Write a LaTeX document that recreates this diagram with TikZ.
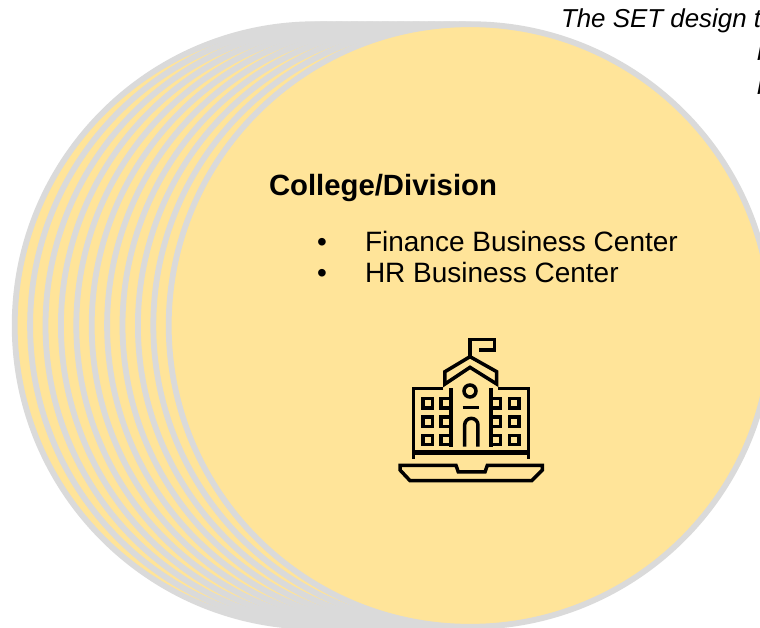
\documentclass[tikz,border=0pt]{standalone}
\usepackage{fontspec}
\setmainfont{Liberation Sans}
\definecolor{discfill}{HTML}{FFE499}
\definecolor{discedge}{HTML}{DADADA}
\tikzset{
  disc/.style={draw=discedge,fill=discfill,line width=5.8pt},
  label/.style={anchor=base west,inner sep=0pt,outer sep=0pt,text=black},
  bodytext/.style={label,font=\fontsize{28pt}{31pt}\selectfont},
  headtext/.style={label,font=\fontsize{29.3pt}{33pt}\selectfont\bfseries},
  notetext/.style={label,font=\fontsize{25.9pt}{33pt}\selectfont\itshape},
  iconline/.style={draw=black,line width=3.5pt,line join=miter,fill=none},
  iconthick/.style={draw=black,line width=4.4pt,fill=none}
}
\begin{document}
\begin{tikzpicture}[x=1pt,y=-1pt]
\useasboundingbox (0,0) rectangle (760,627);
\clip (0,0) rectangle (760,627);
\fill[white] (0,0) rectangle (760,627);
% stacked circles, back to front
\foreach \i in {0,...,10}{
  \path[disc] ({316+15.4*\i},325.5) circle[radius=301.3pt];
}
% cut-off note at the top right
\node[notetext] (noteA) at (561,27) {The SET design t};
\node[notetext] (noteB) at (757,60) {r};
\node[notetext] (noteC) at (757,94) {r};
% texts
\node[headtext] (head) at (269,195) {College/Division};
\node[bodytext] (bulA) at (317,251) {•};
\node[bodytext] (itemA) at (365,251) {Finance Business Center};
\node[bodytext] (bulB) at (317,282) {•};
\node[bodytext] (itemB) at (365,282) {HR Business Center};
% icon
\begin{scope}[shift={(380,320)},x=0.3333pt,y=-0.3333pt]
  % flag
  \draw[iconline] (270,108) -- (270,58) -- (343,58) -- (343,90) -- (296,90);
  % roof
  \draw[iconline] (195,192) -- (195,155) -- (270,110) -- (350,155) -- (350,192) -- (270,142) -- cycle;
  % wings
  \draw[iconline] (190,206) -- (101,206) -- (101,416);
  \draw[iconline] (355,206) -- (445,206) -- (445,416);
  \draw[iconthick] (101,398) -- (445,398);
  \draw[iconthick] (213,204) -- (213,380);
  \draw[iconthick] (333,204) -- (333,380);
  % windows
  \foreach \wy in {250,305,360}{
    \foreach \wx in {143,197,347,403}{
      \draw[iconline] ({\wx-14},{\wy-14}) rectangle ({\wx+14},{\wy+14});
    }
  }
  % centre window, lintel, door
  \draw[iconline] (270,213) circle[radius=18];
  \draw[iconline] (248,262) -- (296,262);
  \draw[iconline] (254,380) -- (254,315) arc[start angle=180,end angle=0,x radius=20,y radius=-20] -- (294,380);
  % laptop base
  \draw[iconline] (60,436) -- (228,436) -- (235,456) -- (315,456) -- (322,436) -- (487,436) -- (487,450) -- (455,482) -- (90,482) -- (60,450) -- cycle;
\end{scope}
\end{tikzpicture}
\end{document}
